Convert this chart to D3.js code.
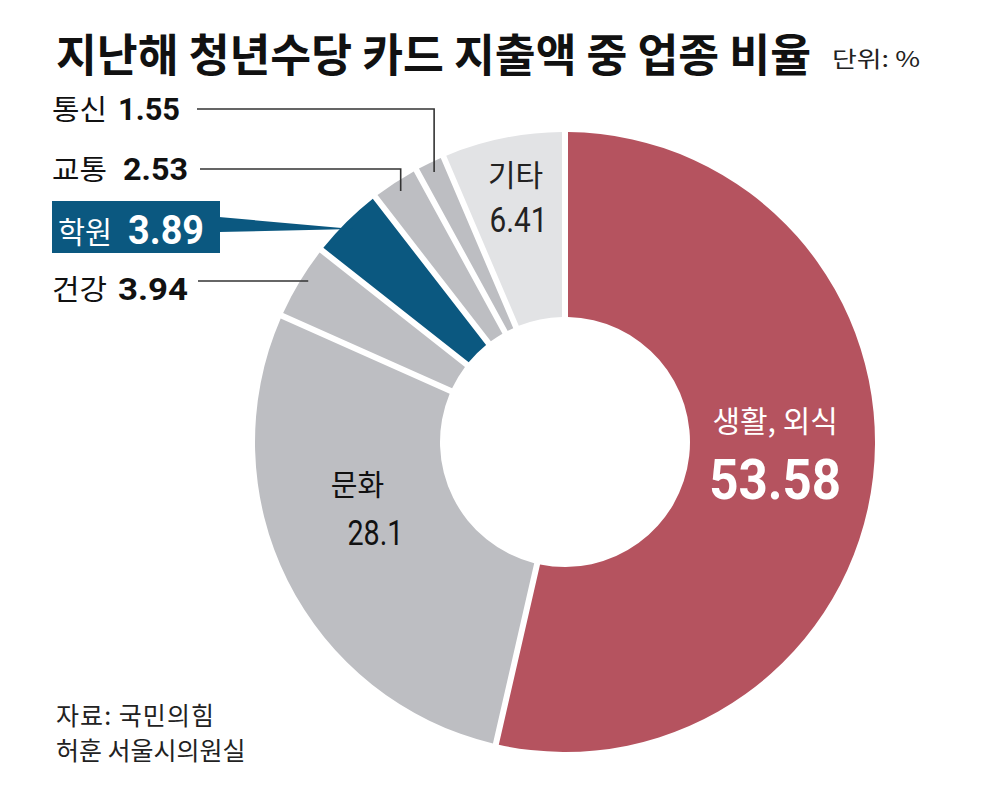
<!DOCTYPE html>
<html>
<head>
<meta charset="utf-8">
<script src="https://cdn.jsdelivr.net/npm/d3@7"></script>
<style>
	body { margin: 0; background: #fff; }
	text { font-family: "Noto Sans CJK KR", "Noto Sans", sans-serif; }
</style>
</head>
<body>
<div id="chart"></div>
<script>
const categories = ["생활, 외식", "문화", "건강", "학원", "교통", "통신", "기타"];
const values = [53.58, 28.1, 3.94, 3.89, 2.53, 1.55, 6.41];
const valueLabels = ["53.58", "28.1", "3.94", "3.89", "2.53", "1.55", "6.41"];
const sliceColors = ["#b5535f", "#bdbec2", "#bdbec2", "#0b5880", "#bdbec2", "#bdbec2", "#e2e3e5"];

const W = 1003, H = 797;
const CX = 565, CY = 442, R_OUT = 310, R_IN = 125;

// outside labels on the left (index into categories -> row layout)
const outside = [
	{ i: 5, y: 120, numX: 118, numW: 62, lineX: 197 },
	{ i: 4, y: 180, numX: 123, numW: 65, lineX: 200 },
	{ i: 2, y: 300, numX: 118, numW: 70, lineX: 198, lineY: 281 }
];
// inside labels: offsets from arc centroid
const inside = [
	{ i: 0, dx1: -6, dx2: -6, y1: -34, y2: 33, nameSize: 30, numSize: 56, numW: 132, bold: true, fill: "#fff" },
	{ i: 1, dx1: -13, dx2: 5, y1: -43, y2: 6, nameSize: 29, numSize: 35, numW: 56, bold: false, fill: "#111" },
	{ i: 6, dx1: -6, dx2: -3, y1: -43, y2: 3, nameSize: 30, numSize: 35, numW: 58, bold: false, fill: "#222" }
];

const svg = d3.select("#chart").append("svg")
	.attr("width", W)
	.attr("height", H);

// title
svg.append("text")
	.attr("x", 56)
	.attr("y", 72)
	.attr("textLength", 755)
	.attr("lengthAdjust", "spacingAndGlyphs")
	.style("font-size", "45px")
	.style("font-weight", "bold")
	.style("fill", "#111")
	.text("지난해 청년수당 카드 지출액 중 업종 비율");

svg.append("text")
	.attr("x", 832)
	.attr("y", 67)
	.attr("textLength", 88)
	.attr("lengthAdjust", "spacingAndGlyphs")
	.style("font-size", "22px")
	.style("fill", "#222")
	.text("단위: %");

const pie = d3.pie().sort(null).value(d => d)(values);
const arc = d3.arc()
	.innerRadius(R_IN)
	.outerRadius(R_OUT)
	.padRadius(R_OUT)
	.padAngle(6 / R_OUT);

const g = svg.append("g").attr("transform", `translate(${CX},${CY})`);

g.selectAll("path")
	.data(pie)
	.join("path")
	.attr("d", arc)
	.attr("fill", (d, i) => sliceColors[i]);

const midAngle = d => (d.startAngle + d.endAngle) / 2;
const polar = (a, r) => [CX + Math.sin(a) * r, CY - Math.cos(a) * r];

// leader lines + outside labels
outside.forEach(o => {
	const d = pie[o.i];
	const [px, py] = polar(midAngle(d), 300);
	const ly = o.lineY ?? o.y - 11;
	const pts = Math.abs(py - ly) < 10 ? [[o.lineX, ly], [px, ly]] : [[o.lineX, ly], [px, ly], [px, py]];
	svg.append("path")
		.attr("d", d3.line()(pts))
		.attr("fill", "none")
		.attr("stroke", "#333")
		.attr("stroke-width", 1.6);
	svg.append("text")
		.attr("x", 52)
		.attr("y", o.y)
		.attr("textLength", 55)
		.attr("lengthAdjust", "spacingAndGlyphs")
		.style("font-size", "28px")
		.style("fill", "#111")
		.text(categories[o.i]);
	svg.append("text")
		.attr("x", o.numX)
		.attr("y", o.y)
		.attr("textLength", o.numW)
		.attr("lengthAdjust", "spacingAndGlyphs")
		.style("font-size", "32px")
		.style("font-weight", "bold")
		.style("font-family", "Roboto, sans-serif")
		.style("fill", "#111")
		.text(valueLabels[o.i]);
});

// highlighted 학원 label box with pointer
{
	const i = 3;
	const boxX = 52, boxY = 201, boxW = 168, boxH = 52;
	const my = boxY + boxH / 2;
	const tipR = 302;
	const tipX = CX - Math.sqrt(tipR * tipR - (CY - my) * (CY - my));
	svg.append("path")
		.attr("d", d3.line()([[boxX + boxW - 1, my - 10], [tipX, my + 2], [boxX + boxW - 1, my + 5]]) + "Z")
		.attr("fill", sliceColors[i]);
	svg.append("rect")
		.attr("x", boxX).attr("y", boxY)
		.attr("width", boxW).attr("height", boxH)
		.attr("fill", sliceColors[i]);
	svg.append("text")
		.attr("x", 58)
		.attr("y", 243)
		.attr("textLength", 54)
		.attr("lengthAdjust", "spacingAndGlyphs")
		.style("font-size", "30px")
		.style("fill", "#fff")
		.text(categories[i]);
	svg.append("text")
		.attr("x", 128)
		.attr("y", 244)
		.attr("textLength", 76)
		.attr("lengthAdjust", "spacingAndGlyphs")
		.style("font-size", "40px")
		.style("font-weight", "bold")
		.style("font-family", "Roboto, sans-serif")
		.style("fill", "#fff")
		.text(valueLabels[i]);
}

// inside labels
inside.forEach(o => {
	const [cx, cy] = arc.centroid(pie[o.i]);
	const x = CX + cx, y = CY + cy;
	svg.append("text")
		.attr("x", x + o.dx1).attr("y", y + o.y1)
		.attr("text-anchor", "middle")
		.style("font-size", o.nameSize + "px")
		.style("fill", o.fill)
		.text(categories[o.i]);
	svg.append("text")
		.attr("x", x + o.dx2 - o.numW / 2).attr("y", y + o.y2)
		.attr("textLength", o.numW)
		.attr("lengthAdjust", "spacingAndGlyphs")
		.style("font-size", o.numSize + "px")
		.style("font-weight", o.bold ? "bold" : "normal")
		.style("font-family", "Roboto, sans-serif")
		.style("fill", o.fill)
		.text(valueLabels[o.i]);
});

// source
svg.append("text")
	.attr("x", 56).attr("y", 725)
	.attr("textLength", 158)
	.attr("lengthAdjust", "spacing")
	.style("font-size", "25px")
	.style("fill", "#222")
	.text("자료: 국민의힘");
svg.append("text")
	.attr("x", 56).attr("y", 760)
	.style("font-size", "25px")
	.style("fill", "#222")
	.text("허훈 서울시의원실");
</script>
</body>
</html>
